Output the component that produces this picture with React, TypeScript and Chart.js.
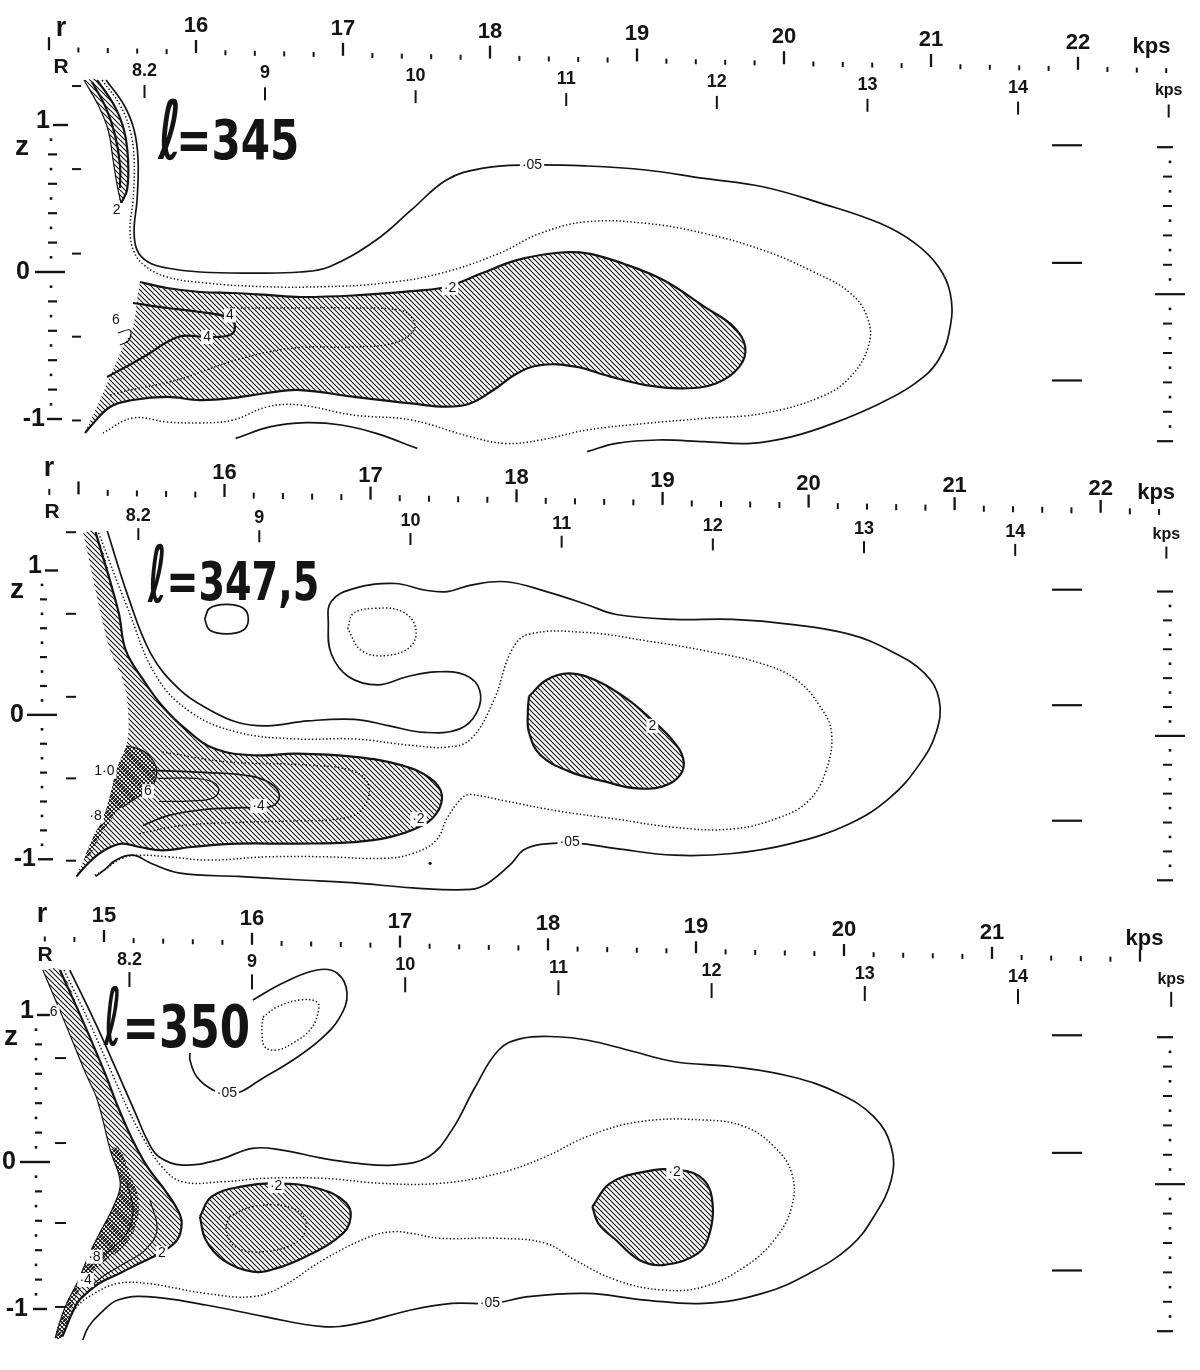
import React, { useEffect, useRef } from "react";
import { Chart, registerables } from "chart.js";

Chart.register(...registerables);

type Pt = [number, number];
type Tag = { r: number; z: number; t: string };
type Style = "solid" | "bold" | "thin" | "dotted";

const INK = "#141414";
const SANS = '"Liberation Sans", "DejaVu Sans", Arial, sans-serif';
const TITLE_FONT = '"DejaVu Sans", sans-serif';

// ---------------- shared axis values ----------------
const R_AXIS_VALUES = [8.2, 9, 10, 11, 12, 13, 14, 15];
const R_AXIS_LABELS = ["8.2", "9", "10", "11", "12", "13", "14", "kps"];
const Z_LABEL_VALUES = [1, 0, -1];
const Z_LABELS = ["1", "0", "-1"];
const RIGHT_LONG_Z = [1.0, 0.2, -0.6];
const LEFT_EXTRA_Z = [1.265, 0.7, 0.125, -0.44, -1.01];
const LEFT_EXTRA_Z_P3 = [0.707, 0.129, -0.415, -0.986];

// ---------------- panel 1 : l = 345 ----------------
const P1_R_LABELS = [16, 17, 18, 19, 20, 21, 22];
const P1_R_TICK_SPAN: Pt = [15, 22.6];
const P1_R_UNIT = 22.5;

const P1_OUTER_05: Pt[] = [
  [15.388, 1.306], [15.51, 1.136], [15.579, 0.966], [15.606, 0.762], [15.599, 0.49],
  [15.579, 0.285], [15.599, 0.149], [15.674, 0.068], [15.803, 0.027], [16.028, 0.0],
  [16.368, -0.007], [16.708, 0.0], [16.908, 0.036], [17.226, 0.218], [17.465, 0.422],
  [17.704, 0.626], [17.944, 0.705], [18.262, 0.728], [18.661, 0.721], [19.059, 0.694],
  [19.457, 0.637], [19.856, 0.58], [20.254, 0.467], [20.653, 0.331], [20.892, 0.195],
  [21.051, 0.036], [21.131, -0.145], [21.131, -0.372], [21.051, -0.599], [20.892, -0.758],
  [20.653, -0.894], [20.334, -1.03], [20.055, -1.12], [19.776, -1.166], [19.457, -1.154],
  [19.139, -1.143], [18.86, -1.166], [18.661, -1.222],
];
const P1_MID_10: Pt[] = [
  [15.361, 1.306], [15.483, 1.136], [15.551, 0.966], [15.579, 0.762], [15.572, 0.49],
  [15.551, 0.285], [15.579, 0.136], [15.654, 0.041], [15.803, -0.034], [16.068, -0.075],
  [16.469, -0.1], [16.868, -0.1], [17.266, -0.077], [17.665, -0.009], [18.063, 0.127],
  [18.342, 0.263], [18.661, 0.342], [19.059, 0.331], [19.457, 0.263], [19.856, 0.149],
  [20.175, 0.013], [20.453, -0.145], [20.573, -0.327], [20.573, -0.508], [20.453, -0.712],
  [20.254, -0.848], [19.856, -0.962], [19.457, -0.996], [19.059, -1.03], [18.661, -1.075],
  [18.342, -1.143], [18.103, -1.166], [17.864, -1.12], [17.465, -1.007], [17.067, -0.973],
  [16.708, -0.905], [16.483, -0.918], [16.252, -1.007], [16.027, -1.027], [15.803, -1.02],
  [15.571, -0.993], [15.367, -1.095],
];
const P1_LOW_ARC: Pt[] = [
  [16.27, -1.132], [16.509, -1.052], [16.748, -1.025], [16.987, -1.041], [17.226, -1.098], [17.505, -1.2],
];
const P1_STRIP_FILL: Pt[] = [
  [15.238, 1.306], [15.334, 1.136], [15.402, 0.966], [15.436, 0.762], [15.463, 0.592], [15.49, 0.469],
  [15.531, 0.558], [15.538, 0.762], [15.51, 0.966], [15.442, 1.136], [15.327, 1.306],
];
const P1_STRIP_CORE: Pt[] = [
  [15.293, 1.292], [15.388, 1.115], [15.449, 0.932], [15.483, 0.728], [15.483, 0.571],
];
const P1_BODY_FILL: Pt[] = [
  [15.619, -0.068], [15.803, -0.109], [16.027, -0.136], [16.252, -0.143], [16.483, -0.156],
  [16.708, -0.17], [17.067, -0.16], [17.465, -0.13], [17.704, -0.1], [17.944, -0.009],
  [18.183, 0.081], [18.462, 0.131], [18.661, 0.127], [18.9, 0.059], [19.179, -0.055],
  [19.457, -0.236], [19.657, -0.372], [19.736, -0.508], [19.697, -0.644], [19.537, -0.758],
  [19.298, -0.792], [19.059, -0.769], [18.82, -0.712], [18.581, -0.644], [18.342, -0.633],
  [18.183, -0.69], [18.023, -0.803], [17.864, -0.894], [17.704, -0.916], [17.465, -0.894],
  [17.067, -0.848], [16.708, -0.803], [16.483, -0.823], [16.252, -0.857], [16.027, -0.871],
  [15.803, -0.85], [15.571, -0.871], [15.415, -0.918], [15.279, -1.054], [15.245, -1.095],
  [15.347, -0.871], [15.435, -0.667], [15.503, -0.51], [15.571, -0.374], [15.599, -0.19],
];
const P1_C4: Pt[] = [
  [15.571, -0.211], [15.803, -0.245], [16.027, -0.272], [16.231, -0.313], [16.265, -0.374],
  [16.231, -0.429], [16.075, -0.442], [15.912, -0.435], [15.803, -0.476], [15.688, -0.551],
  [15.571, -0.619], [15.395, -0.714],
];
const P1_C3: Pt[] = [
  [16.231, -0.245], [16.667, -0.245], [17.068, -0.245], [17.388, -0.259], [17.469, -0.313],
  [17.483, -0.395], [17.347, -0.483], [17.068, -0.51], [16.667, -0.517], [16.272, -0.599],
  [15.871, -0.735], [15.551, -0.803], [15.415, -0.837],
];
const P1_C6: Pt[] = [[15.469, -0.415], [15.551, -0.395], [15.544, -0.463], [15.483, -0.497]];
const P1_TAGS: Tag[] = [
  { r: 18.286, z: 0.728, t: "·05" },
  { r: 17.728, z: -0.109, t: "·2" },
  { r: 15.46, z: 0.42, t: "2" },
  { r: 16.075, z: -0.442, t: "4" },
  { r: 16.231, z: -0.296, t: "4" },
  { r: 15.455, z: -0.33, t: "6" },
];

// ---------------- panel 2 : l = 347,5 ----------------
const P2_R_LABELS = [16, 17, 18, 19, 20, 21, 22];
const P2_R_TICK_SPAN: Pt = [14.8, 22.4];
const P2_R_UNIT = 22.38;

const P2_OUTER_05: Pt[] = [
  [15.197, 1.273], [15.336, 0.831], [15.496, 0.423], [15.695, 0.173], [15.894, 0.037],
  [16.093, -0.053], [16.292, -0.076], [16.571, -0.042], [16.89, -0.031], [17.129, -0.076],
  [17.368, -0.121], [17.607, -0.099], [17.727, 0.015], [17.747, 0.173], [17.647, 0.276],
  [17.448, 0.298], [17.249, 0.264], [17.049, 0.208], [16.85, 0.264], [16.731, 0.423],
  [16.711, 0.627], [16.731, 0.786], [16.89, 0.876], [17.169, 0.91], [17.368, 0.865],
  [17.527, 0.854], [17.687, 0.899], [17.926, 0.922], [18.205, 0.854], [18.484, 0.763],
  [18.683, 0.695], [19.081, 0.661], [19.48, 0.661], [19.878, 0.627], [20.277, 0.559],
  [20.556, 0.446], [20.795, 0.287], [20.894, 0.105], [20.874, -0.121], [20.755, -0.348],
  [20.556, -0.575], [20.277, -0.756], [19.878, -0.892], [19.48, -0.96], [19.081, -0.972],
  [18.683, -0.926], [18.404, -0.888], [18.165, -0.897], [18.045, -0.938], [17.966, -1.028],
  [17.806, -1.164], [17.687, -1.209], [17.288, -1.198], [16.89, -1.164], [16.492, -1.142],
  [16.093, -1.119], [15.695, -1.096], [15.496, -1.028], [15.376, -0.972], [15.257, -1.006],
  [15.177, -1.074], [15.117, -1.119],
];
const P2_MID_10: Pt[] = [
  [15.137, 1.262], [15.336, 0.74], [15.535, 0.264], [15.774, 0.015], [16.093, -0.121],
  [16.492, -0.167], [16.89, -0.167], [17.288, -0.212], [17.527, -0.223], [17.687, -0.167],
  [17.846, 0.105], [17.966, 0.446], [18.085, 0.559], [18.484, 0.57], [18.882, 0.514],
  [19.28, 0.446], [19.679, 0.355], [19.918, 0.242], [20.077, 0.06], [20.157, -0.121],
  [20.117, -0.393], [19.998, -0.597], [19.799, -0.711], [19.48, -0.79], [19.081, -0.779],
  [18.683, -0.722], [18.285, -0.666], [17.926, -0.597], [17.687, -0.552], [17.627, -0.575],
  [17.527, -0.711], [17.448, -0.87], [17.288, -0.96], [17.089, -0.994], [16.691, -0.983],
  [16.292, -0.983], [15.894, -1.006], [15.615, -0.983], [15.416, -0.972], [15.296, -0.994],
  [15.177, -1.074], [15.097, -1.119],
];
const P2_FILL: Pt[] = [
  [15.033, 1.262], [15.117, 1.266], [15.273, 0.718], [15.324, 0.446], [15.444, 0.242],
  [15.575, 0.06], [15.735, -0.099], [15.934, -0.235], [16.213, -0.28], [16.492, -0.269],
  [16.89, -0.291], [17.209, -0.348], [17.408, -0.439], [17.488, -0.552], [17.448, -0.688],
  [17.328, -0.779], [17.129, -0.847], [16.89, -0.881], [16.492, -0.892], [16.093, -0.892],
  [15.774, -0.915], [15.575, -0.938], [15.416, -0.915], [15.296, -0.892], [15.177, -0.938],
  [15.077, -1.017], [14.986, -1.119], [15.037, -1.006], [15.101, -0.847], [15.169, -0.711],
  [15.217, -0.554], [15.257, -0.391], [15.328, -0.214], [15.34, 0.017], [15.304, 0.242],
  [15.217, 0.446], [15.149, 0.718],
];
const P2_CROSS: Pt[] = [
  [15.328, -0.214], [15.436, -0.246], [15.516, -0.325], [15.535, -0.416], [15.496, -0.507],
  [15.396, -0.575], [15.296, -0.643], [15.217, -0.734], [15.145, -0.847], [15.077, -0.972],
  [15.037, -1.006], [15.101, -0.847], [15.169, -0.711], [15.217, -0.554], [15.257, -0.391],
];
const P2_C4: Pt[] = [
  [15.51, -0.385], [15.851, -0.398], [16.191, -0.426], [16.34, -0.493], [16.374, -0.575],
  [16.313, -0.636], [16.123, -0.643], [15.851, -0.657], [15.612, -0.698], [15.442, -0.766],
];
const P2_C6: Pt[] = [
  [15.55, -0.44], [15.8, -0.44], [15.93, -0.47], [15.96, -0.53], [15.91, -0.58], [15.78, -0.595], [15.55, -0.6],
];
const P2_C3: Pt[] = [
  [15.575, -0.257], [16.014, -0.325], [16.571, -0.348], [16.89, -0.393], [16.99, -0.507],
  [16.93, -0.666], [16.771, -0.722], [16.492, -0.734], [16.093, -0.745], [15.695, -0.768], [15.416, -0.824],
];
const P2_SMALL_LOOP: Pt[] = [
  [15.864, 0.663], [15.898, 0.738], [16.014, 0.765], [16.129, 0.738], [16.163, 0.663],
  [16.129, 0.588], [16.014, 0.561], [15.898, 0.588],
];
const P2_DOT_LOOP: Pt[] = [
  [16.844, 0.595], [16.884, 0.704], [17.041, 0.738], [17.211, 0.718], [17.306, 0.615],
  [17.279, 0.479], [17.109, 0.411], [16.939, 0.445],
];
const P2_BLOB: Pt[] = [
  [18.085, 0.128], [18.205, 0.242], [18.364, 0.287], [18.563, 0.23], [18.763, 0.105],
  [18.922, -0.031], [19.061, -0.167], [19.141, -0.303], [19.121, -0.416], [19.002, -0.495],
  [18.802, -0.507], [18.603, -0.461], [18.364, -0.393], [18.165, -0.28], [18.085, -0.121], [18.077, 0.015],
];
const P2_SPECKS: Pt[] = [[17.408, -1.028]];
const P2_TAGS: Tag[] = [
  { r: 18.93, z: -0.076, t: "2" },
  { r: 17.328, z: -0.722, t: "·2" },
  { r: 18.364, z: -0.881, t: "·05" },
  { r: 16.233, z: -0.632, t: "·4" },
  { r: 15.476, z: -0.529, t: "6" },
  { r: 15.177, z: -0.393, t: "1·0" },
  { r: 15.117, z: -0.7, t: "·8" },
];

// ---------------- panel 3 : l = 350 ----------------
const P3_R_LABELS = [15, 16, 17, 18, 19, 20, 21];
const P3_R_TICK_SPAN: Pt = [14.6, 22.0];
const P3_R_UNIT = 22.03;

const P3_OUTER_05: Pt[] = [
  [14.769, 1.306], [14.943, 0.943], [15.094, 0.603], [15.213, 0.331], [15.292, 0.15],
  [15.371, 0.036], [15.529, -0.021], [15.767, 0.013], [16.004, 0.093], [16.202, 0.081],
  [16.479, 0.025], [16.717, -0.009], [16.955, -0.021], [17.192, 0.036], [17.35, 0.217],
  [17.509, 0.512], [17.667, 0.762], [17.825, 0.841], [18.063, 0.852], [18.261, 0.83],
  [18.538, 0.762], [18.855, 0.682], [19.251, 0.648], [19.647, 0.58], [19.963, 0.467],
  [20.201, 0.308], [20.319, 0.104], [20.319, -0.123], [20.201, -0.372], [20.042, -0.576],
  [19.765, -0.758], [19.449, -0.894], [19.053, -0.962], [18.657, -0.939], [18.261, -0.894],
  [17.865, -0.916], [17.628, -0.962], [17.35, -0.962], [17.073, -1.007], [16.717, -1.098],
  [16.479, -1.12], [16.084, -1.052], [15.688, -0.973], [15.292, -0.916], [15.094, -0.939],
  [14.975, -1.03], [14.896, -1.12], [14.856, -1.211],
];
const P3_MID_10: Pt[] = [
  [14.73, 1.306], [14.904, 0.943], [15.054, 0.603], [15.165, 0.354], [15.272, 0.15],
  [15.391, -0.032], [15.529, -0.134], [15.806, -0.134], [16.084, -0.111], [16.479, -0.111],
  [16.875, -0.145], [17.271, -0.145], [17.667, -0.077], [17.984, 0.036], [18.261, 0.172],
  [18.617, 0.274], [19.053, 0.286], [19.33, 0.24], [19.528, 0.104], [19.647, -0.077],
  [19.647, -0.304], [19.528, -0.531], [19.33, -0.712], [19.053, -0.848], [18.776, -0.871],
  [18.459, -0.803], [18.182, -0.667], [17.984, -0.553], [17.667, -0.519], [17.271, -0.519],
  [17.073, -0.485], [16.955, -0.474], [16.796, -0.508], [16.479, -0.667], [16.202, -0.848],
  [16.004, -0.916], [15.688, -0.894], [15.292, -0.826], [15.094, -0.826], [14.935, -0.894],
  [14.817, -0.984], [14.738, -1.12],
];
const P3_STRIP: Pt[] = [
  [14.587, 1.306], [14.738, 0.943], [14.876, 0.603], [14.955, 0.422], [15.042, 0.081],
  [15.11, -0.143], [15.062, -0.306], [14.971, -0.483], [14.904, -0.619], [14.856, -0.735],
  [14.817, -0.826], [14.738, -0.984], [14.67, -1.198], [14.718, -1.188], [14.817, -0.962],
  [14.884, -0.891], [14.971, -0.823], [15.11, -0.755], [15.244, -0.687], [15.379, -0.619],
  [15.494, -0.531], [15.525, -0.415], [15.498, -0.327], [15.411, -0.191], [15.292, -0.032],
  [15.193, 0.15], [15.094, 0.376], [15.007, 0.603], [14.864, 0.943], [14.702, 1.306],
];
const P3_CROSS: Pt[] = [
  [15.042, 0.081], [15.11, -0.143], [15.062, -0.306], [14.971, -0.483], [14.904, -0.619],
  [14.856, -0.735], [14.817, -0.826], [14.738, -0.984], [14.67, -1.198], [14.718, -1.188],
  [14.777, -1.007], [14.837, -0.871], [14.916, -0.758], [15.015, -0.667], [15.133, -0.576],
  [15.213, -0.44], [15.232, -0.259], [15.173, -0.077], [15.094, 0.104],
];
const P3_LA: Pt[] = [
  [15.155, -0.143], [15.196, -0.327], [15.155, -0.483], [15.04, -0.599], [14.939, -0.68], [14.871, -0.748],
];
const P3_LB: Pt[] = [
  [15.311, -0.258], [15.358, -0.463], [15.277, -0.599], [15.142, -0.687], [15.006, -0.769], [14.919, -0.837],
];
const P3_TOP_LOOP: Pt[] = [
  [16.006, 1.102], [16.209, 1.218], [16.439, 1.306], [16.574, 1.286], [16.642, 1.15],
  [16.594, 0.986], [16.459, 0.83], [16.277, 0.694], [16.054, 0.558], [15.919, 0.476],
  [15.831, 0.469], [15.736, 0.49], [15.628, 0.578], [15.581, 0.694], [15.581, 0.742],
];
const P3_TOP_DOT: Pt[] = [
  [16.074, 0.986], [16.169, 1.054], [16.324, 1.102], [16.439, 1.088], [16.446, 1.014],
  [16.392, 0.898], [16.277, 0.81], [16.169, 0.762], [16.088, 0.782], [16.067, 0.878],
];
const P3_BLOB1: Pt[] = [
  [15.648, -0.372], [15.727, -0.236], [15.925, -0.168], [16.163, -0.145], [16.44, -0.179],
  [16.638, -0.281], [16.658, -0.417], [16.559, -0.531], [16.361, -0.644], [16.163, -0.724],
  [16.004, -0.746], [15.806, -0.667], [15.688, -0.531],
];
const P3_BLOB1_IN: Pt[] = [
  [15.846, -0.372], [16.004, -0.304], [16.242, -0.304], [16.361, -0.395], [16.321, -0.531],
  [16.084, -0.61], [15.886, -0.576], [15.826, -0.463],
];
const P3_BLOB2: Pt[] = [
  [18.3, -0.304], [18.419, -0.145], [18.657, -0.066], [18.894, -0.055], [19.053, -0.123],
  [19.112, -0.281], [19.092, -0.485], [19.013, -0.622], [18.776, -0.701], [18.617, -0.667],
  [18.459, -0.531], [18.34, -0.417],
];
const P3_TAGS: Tag[] = [
  { r: 16.163, z: -0.163, t: "·2" },
  { r: 18.855, z: -0.066, t: "·2" },
  { r: 17.608, z: -0.962, t: "·05" },
  { r: 15.831, z: 0.469, t: "·05" },
  { r: 15.391, z: -0.621, t: "2" },
  { r: 14.935, z: -0.644, t: "·8" },
  { r: 14.876, z: -0.803, t: "·4" },
  { r: 14.66, z: 1.022, t: "6" },
];

// ---------------- layout (positions & styles only) ----------------
interface Layout {
  slope: number;
  rLabelY: number; rMajor: Pt; rMinor: Pt;
  RLabelY: number; RTick: Pt;
  rLetter: Pt; RLetter: Pt; zLetter: Pt;
  zMajor: Pt[]; zLabelRight: number[]; zDash: Pt; zDot: number;
  extraX: Pt;
  titleL: [number, number, number, number];
  titleRest: [number, number, number, number];
}
interface LineSpec { pts: Pt[]; style: Style; closed?: boolean }
interface FillSpec { pts: Pt[]; kind: "hatch" | "cross" }
interface PanelCfg {
  id: string; height: number; title: string;
  rMin: number; rMax: number; zMin: number; zMax: number; RMin: number; RMax: number;
  rTickSpan: Pt; rLabels: number[]; rUnit: number;
  fills: FillSpec[]; lines: LineSpec[]; specks: Pt[]; tags: Tag[];
  extraZ: number[]; layout: Layout;
}

const PANELS: PanelCfg[] = [
  {
    id: "p1", height: 455, title: "=345",
    rMin: 14.6667, rMax: 22.8299, zMin: -1.2449, zMax: 1.8503, RMin: 7.2404, RMax: 15.208,
    rTickSpan: P1_R_TICK_SPAN, rLabels: P1_R_LABELS, rUnit: P1_R_UNIT,
    fills: [
      { pts: P1_STRIP_FILL, kind: "hatch" },
      { pts: P1_BODY_FILL, kind: "hatch" },
    ],
    lines: [
      { pts: P1_OUTER_05, style: "solid" },
      { pts: P1_MID_10, style: "dotted" },
      { pts: P1_LOW_ARC, style: "solid" },
      { pts: P1_STRIP_FILL.slice(5), style: "bold" },
      { pts: P1_STRIP_FILL.slice(0, 6), style: "thin" },
      { pts: P1_STRIP_CORE, style: "bold" },
      { pts: P1_BODY_FILL.slice(0, 40), style: "bold" },
      { pts: P1_C4, style: "bold" },
      { pts: P1_C3, style: "dotted" },
      { pts: P1_C6, style: "thin" },
    ],
    specks: [], tags: P1_TAGS, extraZ: LEFT_EXTRA_Z,
    layout: {
      slope: 0.019,
      rLabelY: 22.3, rMajor: [36.3, 49.3], rMinor: [46, 51],
      RLabelY: 68.3, RTick: [82.3, 95.3],
      rLetter: [61, 29], RLetter: [61, 67], zLetter: [22, 147],
      zMajor: [[53, 68], [35, 65], [47, 62]], zLabelRight: [50, 30, 45], zDash: [48, 57], zDot: 51,
      extraX: [72, 81],
      titleL: [157, 159, 21, 61], titleRest: [180, 159, 117, 41],
    },
  },
  {
    id: "p2", height: 450, title: "=347,5",
    rMin: 14.4898, rMax: 22.6531, zMin: -1.2891, zMax: 1.7721, RMin: 7.3114, RMax: 15.196,
    rTickSpan: P2_R_TICK_SPAN, rLabels: P2_R_LABELS, rUnit: P2_R_UNIT,
    fills: [
      { pts: P2_FILL, kind: "hatch" },
      { pts: P2_BLOB, kind: "hatch" },
      { pts: P2_CROSS, kind: "cross" },
    ],
    lines: [
      { pts: P2_OUTER_05, style: "solid" },
      { pts: P2_MID_10, style: "dotted" },
      { pts: P2_FILL.slice(1, 27), style: "bold" },
      { pts: P2_CROSS.slice(0, 7), style: "thin" },
      { pts: P2_C4, style: "solid" },
      { pts: P2_C6, style: "thin" },
      { pts: P2_C3, style: "dotted" },
      { pts: P2_SMALL_LOOP, style: "solid", closed: true },
      { pts: P2_DOT_LOOP, style: "dotted", closed: true },
      { pts: P2_BLOB, style: "bold", closed: true },
    ],
    specks: P2_SPECKS, tags: P2_TAGS, extraZ: LEFT_EXTRA_Z,
    layout: {
      slope: 0.018,
      rLabelY: 14, rMajor: [25, 38], rMinor: [33, 39],
      RLabelY: 58.6, RTick: [70.6, 82.6],
      rLetter: [49, 14], RLetter: [52, 57], zLetter: [17, 135],
      zMajor: [[45, 58], [27, 57], [38, 53]], zLabelRight: [42, 24, 36], zDash: [40, 47], zDot: 42,
      extraX: [66, 76],
      titleL: [147, 147, 17, 59], titleRest: [170, 145, 147, 40],
    },
  },
  {
    id: "p3", height: 465, title: "=350",
    rMin: 14.2973, rMax: 22.4054, zMin: -1.415, zMax: 1.7483, RMin: 7.3551, RMax: 15.188,
    rTickSpan: P3_R_TICK_SPAN, rLabels: P3_R_LABELS, rUnit: P3_R_UNIT,
    fills: [
      { pts: P3_STRIP, kind: "hatch" },
      { pts: P3_BLOB1, kind: "hatch" },
      { pts: P3_BLOB2, kind: "hatch" },
      { pts: P3_CROSS, kind: "cross" },
    ],
    lines: [
      { pts: P3_OUTER_05, style: "solid" },
      { pts: P3_MID_10, style: "dotted" },
      { pts: P3_STRIP.slice(13), style: "bold" },
      { pts: P3_STRIP.slice(0, 13), style: "thin" },
      { pts: P3_LA, style: "thin" },
      { pts: P3_LB, style: "thin" },
      { pts: P3_TOP_LOOP, style: "solid" },
      { pts: P3_TOP_DOT, style: "dotted", closed: true },
      { pts: P3_BLOB1, style: "bold", closed: true },
      { pts: P3_BLOB1_IN, style: "dotted", closed: true },
      { pts: P3_BLOB2, style: "bold", closed: true },
    ],
    specks: [], tags: P3_TAGS, extraZ: LEFT_EXTRA_Z_P3,
    layout: {
      slope: 0.019,
      rLabelY: 9, rMajor: [23, 35], rMinor: [30.6, 35.6],
      RLabelY: 52.6, RTick: [64.6, 79.6],
      rLetter: [42, 10], RLetter: [45, 50], zLetter: [11, 132],
      zMajor: [[37, 50], [20, 50], [33, 47]], zLabelRight: [34, 16, 28], zDash: [35, 42], zDot: 36,
      extraX: [55, 66],
      titleL: [103, 140, 16, 60], titleRest: [127, 142, 121, 44],
    },
  },
];

// ---------------- helpers ----------------
function makePattern(cross: boolean): CanvasPattern | string {
  const s = cross ? 4 : 5;
  const c = document.createElement("canvas");
  c.width = s; c.height = s;
  const g = c.getContext("2d");
  if (!g) return "rgba(0,0,0,0.3)";
  g.strokeStyle = "#1a1a1a";
  g.lineWidth = cross ? 0.9 : 1.15;
  g.beginPath();
  g.moveTo(0, 0); g.lineTo(s, s);
  g.moveTo(-1, s - 1); g.lineTo(1, s + 1);
  g.moveTo(s - 1, -1); g.lineTo(s + 1, 1);
  if (cross) {
    g.moveTo(s, 0); g.lineTo(0, s);
    g.moveTo(-1, 1); g.lineTo(1, -1);
    g.moveTo(s - 1, s + 1); g.lineTo(s + 1, s - 1);
  }
  g.stroke();
  return g.createPattern(c, "repeat") || "rgba(0,0,0,0.3)";
}

const STYLE: Record<Style, { w: number; dash: number[] }> = {
  solid: { w: 1.7, dash: [] },
  bold: { w: 2.2, dash: [] },
  thin: { w: 1.2, dash: [] },
  dotted: { w: 1.5, dash: [1.4, 2.2] },
};

function toXY(pts: Pt[], closed?: boolean) {
  const d = pts.map(([x, y]) => ({ x, y }));
  if (closed) d.push({ x: pts[0][0], y: pts[0][1] });
  return d;
}

function fitText(ctx: CanvasRenderingContext2D, text: string, left: number, base: number, w: number, h: number) {
  ctx.save();
  ctx.textAlign = "left";
  ctx.textBaseline = "alphabetic";
  ctx.font = `bold 100px ${TITLE_FONT}`;
  const m = ctx.measureText(text);
  const size = (100 * h) / Math.max(1, m.actualBoundingBoxAscent);
  ctx.font = `bold ${size}px ${TITLE_FONT}`;
  const m2 = ctx.measureText(text);
  const bw = Math.max(1, m2.actualBoundingBoxLeft + m2.actualBoundingBoxRight);
  ctx.translate(left, base);
  ctx.scale(w / bw, 1);
  ctx.fillStyle = INK;
  ctx.fillText(text, m2.actualBoundingBoxLeft, 0);
  ctx.restore();
}

function makePlugin(cfg: PanelCfg) {
  return {
    id: "paper_" + cfg.id,
    afterDatasetsDraw(chart: any) {
      const ctx: CanvasRenderingContext2D = chart.ctx;
      const xs = chart.scales.x, ys = chart.scales.y, xR = chart.scales.xR;
      const L = cfg.layout;
      const sl = (x: number) => L.slope * x;
      const seg = (x1: number, y1: number, x2: number, y2: number, w: number) => {
        ctx.lineWidth = w; ctx.beginPath(); ctx.moveTo(x1, y1); ctx.lineTo(x2, y2); ctx.stroke();
      };
      const dot = (x: number, y: number) => ctx.fillRect(x - 1.3, y - 1.3, 2.6, 2.6);
      ctx.save();
      ctx.strokeStyle = INK; ctx.fillStyle = INK; ctx.lineCap = "butt";
      ctx.textAlign = "center"; ctx.textBaseline = "middle";

      // contour value labels
      ctx.font = `14px ${SANS}`;
      for (const g of cfg.tags) {
        const x = xs.getPixelForValue(g.r), y = ys.getPixelForValue(g.z);
        const w = ctx.measureText(g.t).width + 4;
        ctx.fillStyle = "#fff"; ctx.fillRect(x - w / 2, y - 7, w, 14);
        ctx.fillStyle = INK; ctx.fillText(g.t, x, y);
      }

      // r axis (top row)
      const nR = Math.round((cfg.rTickSpan[1] - cfg.rTickSpan[0]) / 0.2);
      for (let i = 0; i <= nR; i++) {
        const v = cfg.rTickSpan[0] + i * 0.2;
        const x = xs.getPixelForValue(v);
        const major = Math.abs(v - Math.round(v)) < 1e-6;
        const t = major ? L.rMajor : L.rMinor;
        seg(x, t[0] + sl(x), x, t[1] + sl(x), major ? 2.3 : 2);
      }
      ctx.font = `bold 22px ${SANS}`;
      for (const v of cfg.rLabels) {
        const x = xs.getPixelForValue(v);
        ctx.fillText(String(v), x, L.rLabelY + sl(x));
      }
      {
        const x = xs.getPixelForValue(cfg.rUnit);
        ctx.fillText("kps", x, L.rLabelY + sl(x) + 3);
      }
      // R axis (second row)
      R_AXIS_VALUES.forEach((v, i) => {
        const x = xR.getPixelForValue(v);
        seg(x, L.RTick[0] + sl(x), x, L.RTick[1] + sl(x), 2);
        ctx.font = i === R_AXIS_VALUES.length - 1 ? `bold 16px ${SANS}` : `bold 18px ${SANS}`;
        ctx.fillText(R_AXIS_LABELS[i], x, L.RLabelY + sl(x));
      });
      // axis letters
      ctx.font = `bold 27px ${SANS}`; ctx.fillText("r", L.rLetter[0], L.rLetter[1]);
      ctx.font = `bold 21px ${SANS}`; ctx.fillText("R", L.RLetter[0], L.RLetter[1]);
      ctx.font = `bold 28px ${SANS}`; ctx.fillText("z", L.zLetter[0], L.zLetter[1]);

      // z axis (left)
      for (let i = -10; i <= 10; i++) {
        if (i % 10 === 0) continue;
        const y = ys.getPixelForValue(i / 10);
        if (i % 2 === 0) seg(L.zDash[0], y, L.zDash[1], y, 2.2);
        else dot(L.zDot, y);
      }
      ctx.font = `bold 25px ${SANS}`; ctx.textAlign = "right";
      Z_LABEL_VALUES.forEach((v, k) => {
        const y = ys.getPixelForValue(v);
        seg(L.zMajor[k][0], y, L.zMajor[k][1], y, 2.4);
        ctx.fillText(Z_LABELS[k], L.zLabelRight[k], y - (v === 1 ? 4 : 0));
      });
      ctx.textAlign = "center";
      for (const v of cfg.extraZ) {
        const y = ys.getPixelForValue(v);
        seg(L.extraX[0], y, L.extraX[1], y, 2);
      }
      // right-hand z scales
      for (const v of RIGHT_LONG_Z) {
        const y = ys.getPixelForValue(v) + sl(1067);
        seg(1052, y, 1082, y, 2.2);
      }
      for (let i = -10; i <= 10; i++) {
        const y = ys.getPixelForValue(i / 10) + sl(1168);
        if (i === 0) seg(1155, y, 1185, y, 2.2);
        else if (Math.abs(i) === 10) seg(1157, y, 1173, y, 2.2);
        else if (i % 2 === 0) seg(1163, y, 1172, y, 2);
        else dot(1170, y);
      }

      // title
      fitText(ctx, "ℓ", L.titleL[0], L.titleL[1], L.titleL[2], L.titleL[3]);
      fitText(ctx, cfg.title, L.titleRest[0], L.titleRest[1], L.titleRest[2], L.titleRest[3]);
      ctx.restore();
    },
  };
}

function buildConfig(cfg: PanelCfg): any {
  const hatch = makePattern(false);
  const cross = makePattern(true);
  const datasets: any[] = [];
  for (const l of cfg.lines) {
    const st = STYLE[l.style];
    datasets.push({
      data: toXY(l.pts, l.closed), showLine: true, fill: false,
      borderColor: INK, borderWidth: st.w, borderDash: st.dash,
      pointRadius: 0, pointHoverRadius: 0, tension: 0.4, order: 1,
    });
  }
  for (const p of cfg.specks) {
    datasets.push({
      data: toXY([p]), showLine: false, pointRadius: 1.6, pointBorderWidth: 0,
      pointBackgroundColor: INK, backgroundColor: INK, order: 1,
    });
  }
  for (const f of cfg.fills) {
    datasets.push({
      data: toXY(f.pts, true), showLine: true, fill: "shape",
      backgroundColor: f.kind === "cross" ? cross : hatch,
      borderColor: "rgba(0,0,0,0)", borderWidth: 1,
      pointRadius: 0, pointHoverRadius: 0, tension: 0.4,
      order: f.kind === "cross" ? 5 : 6,
    });
  }
  return {
    type: "line",
    data: { datasets },
    options: {
      responsive: false,
      maintainAspectRatio: false,
      animation: false,
      devicePixelRatio: 1,
      events: [],
      layout: { padding: 0 },
      plugins: { legend: { display: false }, tooltip: { enabled: false }, title: { display: false } },
      scales: {
        x: { type: "linear", min: cfg.rMin, max: cfg.rMax, display: false },
        y: { type: "linear", min: cfg.zMin, max: cfg.zMax, display: false },
        xR: { type: "linear", axis: "x", min: cfg.RMin, max: cfg.RMax, display: false },
      },
    },
    plugins: [makePlugin(cfg)],
  };
}

function Panel({ cfg }: { cfg: PanelCfg }) {
  const ref = useRef<HTMLCanvasElement>(null);
  useEffect(() => {
    const canvas = ref.current;
    if (!canvas) return;
    const chart = new Chart(canvas, buildConfig(cfg));
    return () => chart.destroy();
  }, [cfg]);
  return (
    <canvas
      ref={ref}
      width={1200}
      height={cfg.height}
      style={{ display: "block", width: 1200, height: cfg.height }}
    />
  );
}

export default function App() {
  useEffect(() => {
    document.body.style.margin = "0";
    document.body.style.background = "#fff";
  }, []);
  return (
    <div style={{ width: 1200, height: 1370, background: "#fff", overflow: "hidden" }}>
      {PANELS.map((p) => (
        <Panel key={p.id} cfg={p} />
      ))}
    </div>
  );
}
